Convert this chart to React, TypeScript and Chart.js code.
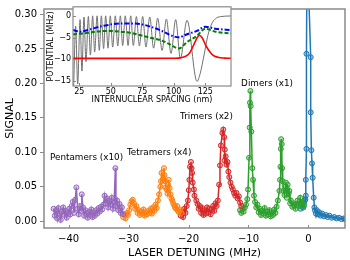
import React, { useEffect, useRef } from "react";
import { Chart, registerables } from "chart.js";
Chart.register(...registerables);
Chart.defaults.font.family = "'DejaVu Sans', sans-serif";
Chart.defaults.color = "#000";

// ---------- main chart data ----------
const xTicks = [-40, -30, -20, -10, 0];
const yTicks = [0, 0.05, 0.1, 0.15, 0.2, 0.25, 0.3];

const pentX = [-42.5,-42.3,-42.1,-41.9,-41.7,-41.5,-41.3,-41.1,-40.9,-40.7,-40.5,-40.3,-40.1,-39.9,-39.7,-39.5,-39.3,-39.1,-38.9,-38.7,-38.5,-38.3,-38.1,-37.9,-37.8,-37.6,-37.4,-37.2,-37.0,-36.8,-36.6,-36.4,-36.2,-36.0,-35.8,-35.6,-35.4,-35.2,-35.0,-34.8,-34.6,-34.4,-34.2,-34.0,-33.8,-33.6,-33.4,-33.2,-33.0,-32.8,-32.6,-32.4,-32.2,-32.1,-31.9,-31.7,-31.5,-31.3,-31.1,-30.9];
const pentY = [0.018,0.008,0.016,0.004,0.019,0.011,0.002,0.014,0.020,0.009,0.015,0.005,0.012,0.018,0.010,0.022,0.028,0.012,0.031,0.049,0.018,0.010,0.022,0.015,0.039,0.020,0.008,0.016,0.011,0.005,0.014,0.009,0.017,0.006,0.013,0.008,0.016,0.011,0.019,0.014,0.021,0.017,0.024,0.037,0.026,0.033,0.020,0.030,0.024,0.034,0.018,0.027,0.077,0.022,0.030,0.016,0.025,0.012,0.020,0.010];

const tetX = [-30.9,-30.7,-30.5,-30.3,-30.1,-29.9,-29.7,-29.5,-29.3,-29.1,-28.9,-28.7,-28.5,-28.3,-28.1,-27.9,-27.7,-27.5,-27.3,-27.1,-26.9,-26.7,-26.5,-26.3,-26.1,-25.9,-25.7,-25.5,-25.3,-25.1,-24.9,-24.7,-24.6,-24.5,-24.3,-24.1,-24.0,-23.9,-23.8,-23.65,-23.5,-23.4,-23.3,-23.15,-23.0,-22.85,-22.7,-22.55,-22.4,-22.25,-22.1,-21.9,-21.75,-21.6,-21.4,-21.2];
const tetY = [0.006,0.010,0.004,0.012,0.009,0.016,0.024,0.029,0.031,0.026,0.018,0.022,0.012,0.016,0.009,0.014,0.011,0.017,0.008,0.013,0.010,0.015,0.012,0.018,0.011,0.020,0.015,0.024,0.019,0.030,0.039,0.050,0.058,0.070,0.060,0.077,0.067,0.058,0.049,0.046,0.040,0.053,0.060,0.048,0.039,0.033,0.030,0.026,0.023,0.020,0.018,0.022,0.015,0.013,0.017,0.012];

const triX = [-21.3,-21.1,-20.9,-20.7,-20.5,-20.3,-20.1,-19.95,-19.85,-19.75,-19.6,-19.5,-19.4,-19.3,-19.1,-19.0,-18.7,-18.5,-18.3,-18.1,-17.9,-17.7,-17.5,-17.3,-17.1,-16.9,-16.7,-16.5,-16.3,-16.1,-15.9,-15.7,-15.5,-15.3,-15.1,-14.9,-14.75,-14.6,-14.35,-14.2,-14.05,-13.95,-14.0,-13.8,-13.65,-13.5,-13.35,-13.2,-13.0,-12.8,-12.6,-12.4,-12.2,-12.0,-11.8,-11.6,-11.4,-11.2];
const triY = [0.008,0.014,0.006,0.018,0.012,0.022,0.030,0.045,0.060,0.079,0.086,0.077,0.070,0.056,0.046,0.037,0.030,0.025,0.018,0.022,0.012,0.019,0.009,0.016,0.011,0.020,0.013,0.018,0.010,0.017,0.022,0.015,0.026,0.022,0.030,0.053,0.081,0.110,0.128,0.133,0.122,0.104,0.088,0.094,0.082,0.086,0.072,0.064,0.056,0.050,0.046,0.041,0.037,0.041,0.033,0.036,0.027,0.022];

const dimX = [-11.4,-11.2,-11.0,-10.8,-10.6,-10.4,-10.2,-10.07,-9.9,-9.79,-9.75,-9.68,-9.63,-9.52,-9.36,-9.24,-9.08,-8.9,-8.7,-8.5,-8.3,-8.1,-7.9,-7.7,-7.5,-7.3,-7.1,-6.9,-6.7,-6.5,-6.3,-6.1,-5.9,-5.7,-5.5,-5.3,-5.1,-4.84,-4.73,-4.67,-4.6,-4.55,-4.45,-4.4,-4.29,-4.18,-4.0,-3.85,-3.75,-3.6,-3.47,-3.3,-3.19,-3.05,-2.92,-2.7,-2.5,-2.36,-2.15,-1.95,-1.8,-1.6,-1.37,-1.2,-1.0,-0.85,-0.7];
const dimY = [0.016,0.012,0.018,0.014,0.020,0.024,0.032,0.046,0.092,0.136,0.172,0.189,0.167,0.130,0.077,0.060,0.037,0.028,0.020,0.024,0.013,0.018,0.009,0.015,0.011,0.019,0.008,0.014,0.010,0.016,0.007,0.013,0.009,0.017,0.012,0.021,0.030,0.044,0.060,0.079,0.105,0.119,0.112,0.077,0.058,0.044,0.038,0.050,0.056,0.034,0.053,0.040,0.044,0.026,0.030,0.021,0.026,0.023,0.018,0.025,0.030,0.022,0.034,0.027,0.027,0.020,0.023];

const monoX = [-1.3,-1.1,-0.9,-0.75,-0.6,-0.5,-0.44,-0.44,-0.33,-0.33,-0.21,0.38,0.38,0.49,0.6,0.71,0.88,1.0,1.1,1.25,1.4,1.6,1.8,2.0,2.3,2.6,2.9,3.2,3.5,3.9,4.3,4.7,5.1,5.5,5.9,6.1];
const monoY = [0.018,0.024,0.020,0.027,0.030,0.032,0.037,0.060,0.105,0.243,0.40,0.238,0.158,0.103,0.084,0.063,0.034,0.020,0.0155,0.011,0.016,0.010,0.013,0.008,0.011,0.007,0.009,0.006,0.008,0.005,0.006,0.004,0.005,0.003,0.004,0.003];

const groupLabels = ["Pentamers (x10)", "Tetramers (x4)", "Trimers (x2)", "Dimers (x1)"];
const groupLabelX = [-37.0, -24.9, -17.0, -6.9];
const groupLabelY = [0.092, 0.10, 0.151, 0.20];

// ---------- inset data ----------
const insetXTicks = [25, 50, 75, 100, 125];
const insetYTicks = [0, -5, -10, -15];

const waveX = [20.5,22.1,23.7,25.6,27.1,28.7,30.3,32.2,33.8,35.6,37.2,39.1,40.9,42.5,44.3,45.9,47.8,49.6,51.5,53.6,55.5,57.6,59.4,61.5,63.7,65.8,67.9,70.3,72.7,75.3,77.9,80.9,84.0,87.2,90.7,94.1,97.8,101.5,105.2,110.5,118.4,121,124,127,130,133,137,145.4];
const waveY = [-16.5,-2.3,-15.7,-0.8,-12.7,-0.2,-10.5,-0.07,-9.0,0.08,-8.3,0.08,-7.9,0.08,-7.5,0.08,-7.4,0.08,-7.15,0.08,-6.9,0.08,-6.8,0.08,-6.8,0.08,-6.8,-0.07,-6.9,-0.07,-7.15,-0.2,-7.4,-0.44,-7.9,-0.66,-8.6,-0.8,-9.8,-0.96,-15.1,-13.2,-9.0,-4.5,-1.8,-0.6,-0.1,0.05];

const blueX = [20,25.8,35.1,45.6,58.9,69.4,80.1,90.6,98.6,103.9,110.5,118.4,125,133,145.4];
const blueY = [-3.2,-3.58,-2.9,-2.15,-1.7,-1.7,-2.3,-3.42,-4.54,-4.9,-4.17,-3.4,-2.45,-2.9,-3.2];

const greenX = [20,27.8,45.6,64.2,80.1,90.6,98.6,103.9,110.5,118.4,125,133,145.4];
const greenY = [-4.17,-4.0,-3.42,-3.8,-4.9,-5.66,-6.78,-7.5,-6.0,-4.54,-2.9,-3.58,-4.0];

const redX = [20,60,100,106,110,113,116,118.5,120.5,122.5,125,128,131,135,140,145.4];
const redY = [-9.75,-9.75,-9.72,-9.6,-9.2,-8.3,-6.5,-5.0,-4.4,-5.0,-6.5,-8.0,-9.0,-9.5,-9.7,-9.75];

const pts = (xs: number[], ys: number[]) => xs.map((x, i) => ({ x, y: ys[i] }));
const minus = (v: number | string) => String(v).replace("-", "\u2212");

const FRAME = "#8a8a8a";

function framePlugin(id: string, lw: number, tick: number, inX: boolean, inY: boolean, fillWhite: boolean) {
  return {
    id,
    beforeDatasetsDraw(chart: any) {
      if (!fillWhite) return;
      const { ctx, chartArea: a } = chart;
      ctx.save();
      ctx.fillStyle = "#fff";
      ctx.fillRect(a.left, a.top, a.right - a.left, a.bottom - a.top);
      ctx.restore();
    },
    afterDraw(chart: any) {
      const { ctx, chartArea: a, scales } = chart;
      ctx.save();
      ctx.strokeStyle = FRAME;
      ctx.lineWidth = 1;
      if (inX) {
        for (const t of scales.x.ticks) {
          const p = Math.round(scales.x.getPixelForValue(t.value)) + 0.5;
          ctx.beginPath();
          ctx.moveTo(p, a.bottom);
          ctx.lineTo(p, a.bottom - tick);
          ctx.stroke();
        }
      }
      if (inY) {
        for (const t of scales.y.ticks) {
          const p = Math.round(scales.y.getPixelForValue(t.value)) + 0.5;
          ctx.beginPath();
          ctx.moveTo(a.left, p);
          ctx.lineTo(a.left + tick, p);
          ctx.stroke();
        }
      }
      ctx.lineWidth = lw;
      ctx.strokeRect(a.left, a.top, a.right - a.left, a.bottom - a.top);
      ctx.restore();
    },
  };
}

const labelPlugin = {
  id: "groupLabels",
  afterDatasetsDraw(chart: any) {
    const { ctx, scales } = chart;
    ctx.save();
    ctx.font = "8.8px 'DejaVu Sans'";
    ctx.fillStyle = "#000";
    ctx.textAlign = "center";
    ctx.textBaseline = "middle";
    groupLabels.forEach((t, i) => {
      ctx.fillText(t, scales.x.getPixelForValue(groupLabelX[i]), scales.y.getPixelForValue(groupLabelY[i]));
    });
    ctx.restore();
  },
};

function series(label: string, xs: number[], ys: number[], color: string, fill: string) {
  return {
    label,
    data: pts(xs, ys),
    borderColor: color,
    borderWidth: 1.5,
    pointRadius: 2.5,
    pointBorderWidth: 1,
    pointBorderColor: color,
    pointBackgroundColor: fill,
    tension: 0,
  };
}

export default function App() {
  const mainRef = useRef<HTMLCanvasElement>(null);
  const insetRef = useRef<HTMLCanvasElement>(null);

  useEffect(() => {
    const main = new Chart(mainRef.current as HTMLCanvasElement, {
      type: "line",
      data: {
        datasets: [
          series("pent", pentX, pentY, "#9467bd", "rgba(148,103,189,0.35)"),
          series("tet", tetX, tetY, "#ff7f0e", "rgba(255,127,14,0.35)"),
          series("tri", triX, triY, "#d62728", "rgba(214,39,40,0.35)"),
          series("dim", dimX, dimY, "#2ca02c", "rgba(44,160,44,0.35)"),
          series("mono", monoX, monoY, "#1f77b4", "rgba(31,119,180,0.35)"),
        ] as any,
      },
      options: {
        animation: false,
        responsive: false,
        devicePixelRatio: 1,
        layout: { padding: { left: 0, top: 3, right: 2, bottom: 0 } },
        plugins: { legend: { display: false }, tooltip: { enabled: false } },
        scales: {
          x: {
            type: "linear",
            min: -44.1,
            max: 6.1,
            afterBuildTicks: (s: any) => { s.ticks = xTicks.map((v) => ({ value: v })); },
            afterFit: (s: any) => { s.height = 32; },
            grid: { display: true, drawOnChartArea: false, drawTicks: false, color: FRAME },
            border: { display: false },
            ticks: { padding: 5, font: { size: 10 }, color: "#000", callback: (v: any) => minus(v) },
            title: { display: true, text: "LASER DETUNING (MHz)", font: { size: 11 }, padding: { top: 0, bottom: 0 }, color: "#000" },
          },
          y: {
            type: "linear",
            min: -0.0099,
            max: 0.308,
            afterBuildTicks: (s: any) => { s.ticks = yTicks.map((v) => ({ value: v })); },
            afterFit: (s: any) => { s.width = 44; },
            grid: { display: true, drawOnChartArea: false, drawTicks: true, tickLength: 4, color: FRAME },
            border: { display: false },
            ticks: { padding: 3, font: { size: 10 }, color: "#000", callback: (v: any) => Number(v).toFixed(2) },
            title: { display: true, text: "SIGNAL", font: { size: 11 }, padding: { top: 3.4, bottom: 0 }, color: "#000" },
          },
        },
      } as any,
      plugins: [framePlugin("mainFrame", 1.5, 3, true, false, false), labelPlugin] as any,
    });

    const inset = new Chart(insetRef.current as HTMLCanvasElement, {
      type: "line",
      data: {
        datasets: [
          { label: "red", data: pts(redX, redY), borderColor: "#ff0000", borderWidth: 1.6, pointRadius: 0, cubicInterpolationMode: "monotone", order: 1 },
          { label: "blue", data: pts(blueX, blueY), borderColor: "#0000ff", borderWidth: 2, borderDash: [5, 2, 1.5, 2], pointRadius: 0, cubicInterpolationMode: "monotone", order: 2 },
          { label: "green", data: pts(greenX, greenY), borderColor: "#008000", borderWidth: 2, borderDash: [4, 2], pointRadius: 0, cubicInterpolationMode: "monotone", order: 3 },
          { label: "wave", data: pts(waveX, waveY), borderColor: "#707070", borderWidth: 1, pointRadius: 0, cubicInterpolationMode: "monotone", order: 10 },
        ] as any,
      },
      options: {
        animation: false,
        responsive: false,
        devicePixelRatio: 1,
        layout: { padding: { left: 0, top: 4, right: 9, bottom: 0 } },
        plugins: { legend: { display: false }, tooltip: { enabled: false } },
        scales: {
          x: {
            type: "linear",
            min: 20,
            max: 145.4,
            afterBuildTicks: (s: any) => { s.ticks = insetXTicks.map((v) => ({ value: v })); },
            afterFit: (s: any) => { s.height = 19; },
            grid: { display: true, drawOnChartArea: false, drawTicks: false, color: FRAME },
            border: { display: false },
            ticks: { padding: 1.5, font: { size: 8 }, color: "#000", maxRotation: 0, callback: (v: any) => minus(v) },
            title: { display: true, text: "INTERNUCLEAR SPACING (nm)", font: { size: 8 }, padding: { top: 0, bottom: 0.2 }, color: "#000" },
          },
          y: {
            type: "linear",
            min: -16.15,
            max: 2.17,
            afterBuildTicks: (s: any) => { s.ticks = insetYTicks.map((v) => ({ value: v })); },
            afterFit: (s: any) => { s.width = 33; },
            grid: { display: true, drawOnChartArea: false, drawTicks: false, color: FRAME },
            border: { display: false },
            ticks: { padding: 2, font: { size: 8 }, color: "#000", callback: (v: any) => minus(v) },
            title: { display: true, text: "POTENTIAL (MHz)", font: { size: 8 }, padding: { top: 6, bottom: 0 }, color: "#000" },
          },
        },
      } as any,
      plugins: [framePlugin("insetFrame", 1.2, 3, true, true, true)] as any,
    });

    return () => {
      main.destroy();
      inset.destroy();
    };
  }, []);

  return (
    <div style={{ position: "absolute", left: 0, top: 0, width: 350, height: 260, background: "#fff" }}>
      <canvas ref={mainRef} width={350} height={260} style={{ position: "absolute", left: 0, top: 0, width: 350, height: 260 }} />
      <canvas ref={insetRef} width={200} height={105} style={{ position: "absolute", left: 40, top: 0, width: 200, height: 105 }} />
    </div>
  );
}
